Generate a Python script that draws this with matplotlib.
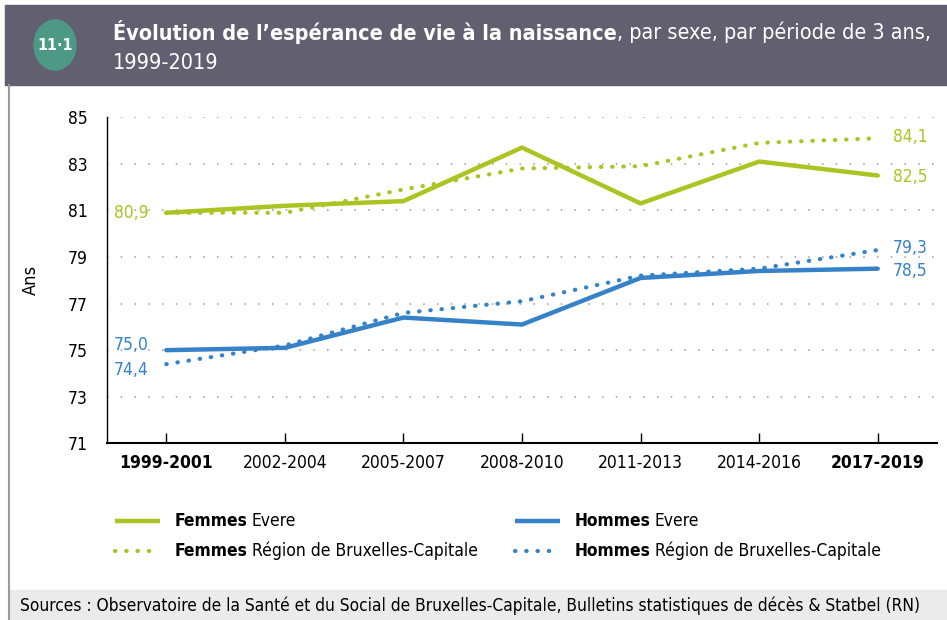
import matplotlib.pyplot as plt
from matplotlib.patches import Rectangle, Ellipse
from matplotlib.lines import Line2D

periodes = ["1999-2001", "2002-2004", "2005-2007", "2008-2010",
            "2011-2013", "2014-2016", "2017-2019"]
femmes_evere = [80.9, 81.2, 81.4, 83.7, 81.3, 83.1, 82.5]
femmes_region = [80.9, 80.9, 81.9, 82.8, 82.9, 83.9, 84.1]
hommes_evere = [75.0, 75.1, 76.4, 76.1, 78.1, 78.4, 78.5]
hommes_region = [74.4, 75.2, 76.6, 77.1, 78.2, 78.5, 79.3]

VERT = "#abc422"
BLEU = "#3582c8"
ENTETE = "#625f70"

plt.rcParams["font.family"] = ["DejaVu Sans"]
plt.rcParams["font.stretch"] = "condensed"

W, H = 947, 620
fig = plt.figure(figsize=(W / 100, H / 100), dpi=100)


def fx(px):
    return px / W


def fy(py):
    return 1 - py / H


# bandeau de titre
fig.patches.append(Rectangle((fx(5), fy(85)), fx(942), 80 / H, transform=fig.transFigure,
                             color=ENTETE, zorder=0))
fig.patches.append(Ellipse((fx(55), fy(45)), 42 / W, 50 / H, transform=fig.transFigure,
                           color="#4c9a86", zorder=1))
fig.text(fx(55), fy(46), "11·1", color="white", fontsize=11.5, fontweight="bold",
         ha="center", va="center")
t = fig.text(fx(113), fy(32), "Évolution de l’espérance de vie à la naissance", color="white",
             fontsize=15.5, fontweight="bold", va="center")
fig.canvas.draw()
bb = t.get_window_extent()
fig.text(bb.x1 / W, fy(32), ", par sexe, par période de 3 ans,", color="white",
         fontsize=15.5, va="center")
fig.text(fx(113), fy(63), "1999-2019", color="white", fontsize=15.5, va="center")

# cadre et pied de page
fig.lines.append(Line2D([fx(9), fx(9)], [fy(85), fy(620)], transform=fig.transFigure,
                        color="#9a9a9a", lw=1.5))
fig.patches.append(Rectangle((fx(9), 0), fx(938), 30 / H, transform=fig.transFigure,
                             color="#ebebeb", zorder=0))
fig.text(fx(20), fy(606), "Sources : Observatoire de la Santé et du Social de Bruxelles-Capitale, "
         "Bulletins statistiques de décès & Statbel (RN)", fontsize=12.4, va="center")

ax = fig.add_axes([fx(107), fy(443.3), fx(937 - 107), (443.3 - 117.3) / H])
x = list(range(len(periodes)))

dots = (0, (0.1, 2.6))
ax.plot(x, femmes_region, color=VERT, lw=3, ls=dots, dash_capstyle="round", zorder=3)
ax.plot(x, hommes_region, color=BLEU, lw=3, ls=dots, dash_capstyle="round", zorder=3)
ax.plot(x, femmes_evere, color=VERT, lw=3.2, solid_capstyle="round", zorder=4)
ax.plot(x, hommes_evere, color=BLEU, lw=3.2, solid_capstyle="round", zorder=4)

ax.set_xlim(-0.5, 6.5)
ax.set_ylim(71, 85)
ax.set_yticks(range(71, 86, 2))
ax.set_xticks(x)
ax.set_xticklabels(periodes, fontsize=12.5)
for i in (0, len(periodes) - 1):
    ax.get_xticklabels()[i].set_fontweight("bold")
ax.tick_params(axis="y", length=0, labelsize=12.5, pad=14)
ax.tick_params(axis="x", direction="in", length=7, width=1, pad=8)
ax.grid(axis="y", color="#9a9a9a", ls=(0, (1, 8)), lw=1.1)
for s in ("top", "right"):
    ax.spines[s].set_visible(False)
ax.spines["left"].set_linewidth(1)
ax.spines["bottom"].set_linewidth(1.5)
ax.set_ylabel("Ans", fontsize=13, labelpad=20)


# étiquettes de valeurs
def lab(v):
    return f"{v:.1f}".replace(".", ",")


ax.text(-0.15, femmes_evere[0], lab(femmes_evere[0]), color=VERT, fontsize=12.5,
        ha="right", va="center")
ax.text(-0.15, hommes_evere[0] + 0.2, lab(hommes_evere[0]), color=BLEU, fontsize=12.5,
        ha="right", va="center")
ax.text(-0.15, hommes_region[0] - 0.25, lab(hommes_region[0]), color=BLEU, fontsize=12.5,
        ha="right", va="center")
n = len(periodes) - 1
ax.text(n + 0.13, femmes_region[n] + 0.05, lab(femmes_region[n]), color=VERT, fontsize=12.5, va="center")
ax.text(n + 0.13, femmes_evere[n] - 0.05, lab(femmes_evere[n]), color=VERT, fontsize=12.5, va="center")
ax.text(n + 0.13, hommes_region[n] + 0.1, lab(hommes_region[n]), color=BLEU, fontsize=12.5, va="center")
ax.text(n + 0.13, hommes_evere[n] - 0.1, lab(hommes_evere[n]), color=BLEU, fontsize=12.5, va="center")

# légende
entrees = [
    (115, 521, VERT, "-", "Femmes", "Evere"),
    (115, 551, VERT, dots, "Femmes", "Région de Bruxelles-Capitale"),
    (515, 521, BLEU, "-", "Hommes", "Evere"),
    (515, 551, BLEU, dots, "Hommes", "Région de Bruxelles-Capitale"),
]
for px, py, c, ls, gras, reste in entrees:
    fig.lines.append(Line2D([fx(px), fx(px + 45)], [fy(py), fy(py)], transform=fig.transFigure,
                            color=c, lw=3.2 if ls == "-" else 3, ls=ls,
                            dash_capstyle="round", solid_capstyle="butt"))
    tb = fig.text(fx(px + 60), fy(py), gras, fontsize=12.5, fontweight="bold", va="center")
    fig.canvas.draw()
    e = tb.get_window_extent()
    fig.text(e.x1 / W + fx(4), fy(py), reste, fontsize=12.5, va="center")

fig.savefig("out.png", dpi=100)
